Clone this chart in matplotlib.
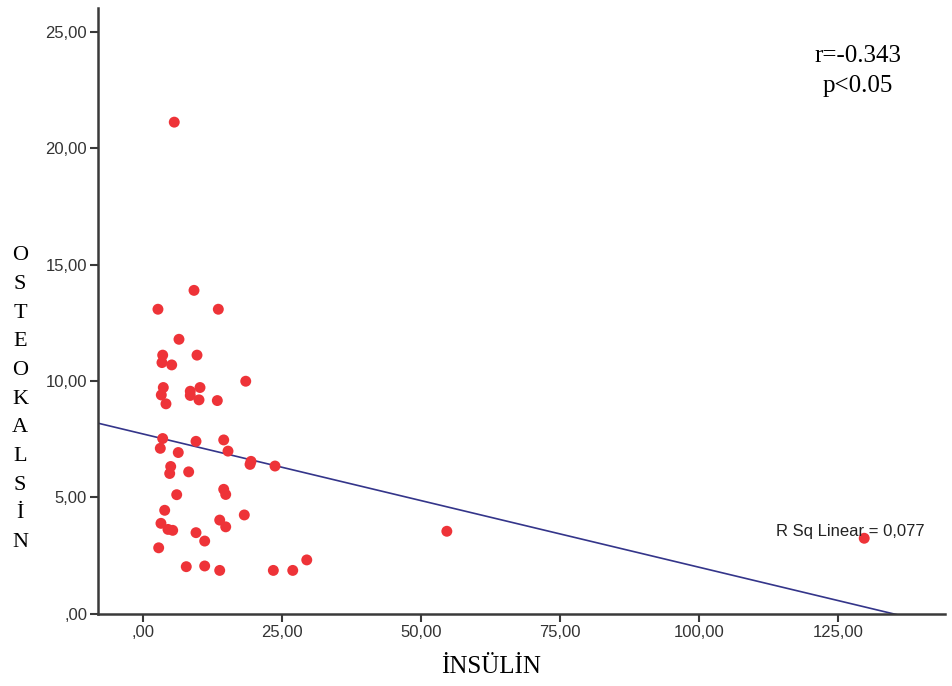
import numpy as np
import matplotlib.pyplot as plt
from matplotlib.ticker import FuncFormatter

# insulin (x) and osteocalcin (y) values
insulin = [5.68, 9.23, 2.75, 13.60, 6.53, 3.60, 9.77, 3.47, 5.22, 18.53,
           3.71, 8.56, 10.31, 3.35, 8.56, 4.19, 10.13, 13.42, 3.60, 9.59,
           14.57, 3.17, 15.34, 6.40, 19.48, 19.30, 23.79, 5.04, 4.86, 8.27,
           14.57, 14.93, 6.12, 3.96, 18.27, 3.29, 13.85, 14.93, 4.55, 5.40,
           9.59, 11.15, 2.88, 7.84, 11.15, 13.85, 23.49, 26.98, 29.50, 54.68,
           129.71]
osteocalcin = [21.11, 13.89, 13.08, 13.08, 11.79, 11.11, 11.11, 10.79, 10.69, 9.99,
               9.72, 9.56, 9.72, 9.40, 9.38, 9.02, 9.19, 9.16, 7.53, 7.41,
               7.47, 7.11, 6.99, 6.93, 6.55, 6.42, 6.35, 6.33, 6.03, 6.10,
               5.35, 5.13, 5.12, 4.45, 4.25, 3.89, 4.03, 3.74, 3.63, 3.59,
               3.49, 3.13, 2.84, 2.03, 2.06, 1.87, 1.87, 1.87, 2.32, 3.55,
               3.25]
x_ticks = [0, 25, 50, 75, 100, 125]
y_ticks = [0, 5, 10, 15, 20, 25]
y_label = "OSTEOKALSİN"
x_label = "İNSÜLİN"
stats_text = "r=-0.343\np<0.05"
rsq_text = "R Sq Linear = 0,077"


def comma_fmt(v, pos):
    s = f"{v:.2f}".replace(".", ",")
    if s.startswith("0,"):
        s = s[1:]
    return s


fig = plt.figure(figsize=(9.53, 6.86), dpi=100)
ax = fig.add_axes([0.103, 0.105, 0.889, 0.883])

ax.scatter(insulin, osteocalcin, s=62, color="#ee3338", edgecolors="none", zorder=3)

# least squares line over the axis range
slope, icpt = np.polyfit(insulin, osteocalcin, 1)
xl = np.array([-8.0, 144.3])
ax.plot(xl, icpt + slope * xl, color="#34358a", lw=1.2, zorder=2)

ax.set_xlim(-8.0, 144.3)
ax.set_ylim(0, 26)
ax.set_xticks(x_ticks)
ax.set_yticks(y_ticks)
ax.xaxis.set_major_formatter(FuncFormatter(comma_fmt))
ax.yaxis.set_major_formatter(FuncFormatter(comma_fmt))

for side in ["top", "right"]:
    ax.spines[side].set_visible(False)
for side in ["left", "bottom"]:
    ax.spines[side].set_color("#3a3a3a")
    ax.spines[side].set_linewidth(1.8)
ax.tick_params(direction="out", length=6, width=1.5, color="#3a3a3a",
               labelsize=12, labelcolor="#333333", pad=2)
for lab in ax.get_xticklabels() + ax.get_yticklabels():
    lab.set_family("Liberation Sans")

fig.text(0.021, 0.418, "\n".join(y_label), ha="center", va="center",
         family="Liberation Serif", fontsize=16, linespacing=1.69)
fig.text(0.515, 0.028, x_label, ha="center", va="center",
         family="Liberation Serif", fontsize=18)
ax.text(0.897, 0.94, stats_text, transform=ax.transAxes, ha="center", va="top",
        family="Liberation Serif", fontsize=18, linespacing=1.47)
ax.text(0.888, 0.136, rsq_text, transform=ax.transAxes, ha="center", va="center",
        family="Liberation Sans", fontsize=12, color="#222222")

fig.savefig("out.png", dpi=100)
